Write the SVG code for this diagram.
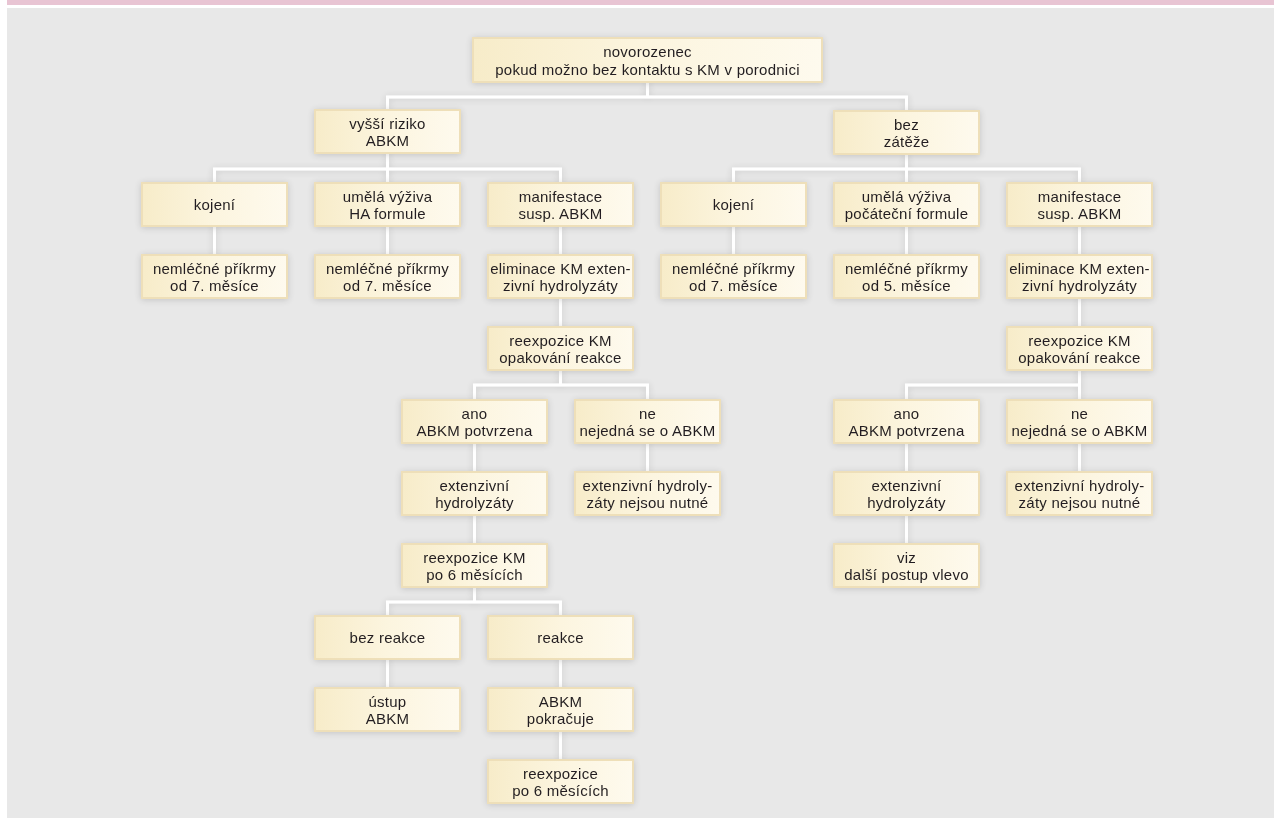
<svg xmlns="http://www.w3.org/2000/svg" width="1274" height="818" viewBox="0 0 1274 818">
<defs>
<linearGradient id="bg" x1="0" y1="0" x2="1" y2="0">
<stop offset="0" stop-color="#f7ecc9"/>
<stop offset="0.5" stop-color="#fcf5df"/>
<stop offset="1" stop-color="#fefaee"/>
</linearGradient>
<filter id="sh" x="-20%" y="-20%" width="140%" height="140%">
<feGaussianBlur in="SourceAlpha" stdDeviation="3.5"/>
<feOffset dx="0" dy="1" result="b"/>
<feComponentTransfer><feFuncA type="linear" slope="0.16"/></feComponentTransfer>
<feMerge><feMergeNode/><feMergeNode in="SourceGraphic"/></feMerge>
</filter>
<style>
.box{fill:url(#bg);stroke:#eedfb9;stroke-width:2}
.t{font-family:"Liberation Sans",Arial,sans-serif;font-size:15px;letter-spacing:0.25px;fill:#231f20;text-anchor:middle}
.c{fill:none;stroke:#ffffff;stroke-width:3}
</style>
</defs>
<rect x="0" y="0" width="1274" height="818" fill="#ffffff"/>
<rect x="7" y="0" width="1267" height="5" fill="#e8c4d3"/>
<rect x="7" y="8" width="1267" height="810" fill="#e8e8e8"/>

<g id="connectors" filter="url(#sh)">
<path class="c" d="M647.5,82V97M387.5,110V97H906.5V111"/>
<path class="c" d="M387.5,153V183M214.5,183V169H560.5V183"/>
<path class="c" d="M906.5,154V183M733.5,183V169H1079.5V183"/>
<path class="c" d="M214.5,226V255M387.5,226V255M560.5,226V255M560.5,298V327M560.5,370V385"/>
<path class="c" d="M474.5,400V385H647.5V400M474.5,443V472M647.5,443V472M474.5,515V544M474.5,587V602"/>
<path class="c" d="M387.5,616V602H560.5V616M387.5,659V688M560.5,659V688M560.5,731V760"/>
<path class="c" d="M733.5,226V255M906.5,226V255M1079.5,226V255M1079.5,298V327M1079.5,370V400"/>
<path class="c" d="M906.5,400V385H1079.5M906.5,443V472M1079.5,443V472M906.5,515V544"/>
</g>

<g id="n0" filter="url(#sh)"><rect class="box" x="473" y="38" width="349" height="44"/><text class="t" x="647.5" y="57">novorozenec</text><text class="t" x="647.5" y="75">pokud možno bez kontaktu s KM v porodnici</text></g>

<g id="n1" filter="url(#sh)"><rect class="box" x="315" y="110" width="145" height="43"/><text class="t" x="387.5" y="128.5">vyšší riziko</text><text class="t" x="387.5" y="146">ABKM</text></g>
<g id="n2" filter="url(#sh)"><rect class="box" x="834" y="111" width="145" height="43"/><text class="t" x="906.5" y="129.5">bez</text><text class="t" x="906.5" y="147">zátěže</text></g>

<g id="n3" filter="url(#sh)"><rect class="box" x="142" y="183" width="145" height="43"/><text class="t" x="214.5" y="210">kojení</text></g>
<g id="n4" filter="url(#sh)"><rect class="box" x="315" y="183" width="145" height="43"/><text class="t" x="387.5" y="201.5">umělá výživa</text><text class="t" x="387.5" y="219">HA formule</text></g>
<g id="n5" filter="url(#sh)"><rect class="box" x="488" y="183" width="145" height="43"/><text class="t" x="560.5" y="201.5">manifestace</text><text class="t" x="560.5" y="219">susp. ABKM</text></g>
<g id="n6" filter="url(#sh)"><rect class="box" x="661" y="183" width="145" height="43"/><text class="t" x="733.5" y="210">kojení</text></g>
<g id="n7" filter="url(#sh)"><rect class="box" x="834" y="183" width="145" height="43"/><text class="t" x="906.5" y="201.5">umělá výživa</text><text class="t" x="906.5" y="219">počáteční formule</text></g>
<g id="n8" filter="url(#sh)"><rect class="box" x="1007" y="183" width="145" height="43"/><text class="t" x="1079.5" y="201.5">manifestace</text><text class="t" x="1079.5" y="219">susp. ABKM</text></g>

<g id="n9" filter="url(#sh)"><rect class="box" x="142" y="255" width="145" height="43"/><text class="t" x="214.5" y="273.5">nemléčné příkrmy</text><text class="t" x="214.5" y="291">od 7. měsíce</text></g>
<g id="n10" filter="url(#sh)"><rect class="box" x="315" y="255" width="145" height="43"/><text class="t" x="387.5" y="273.5">nemléčné příkrmy</text><text class="t" x="387.5" y="291">od 7. měsíce</text></g>
<g id="n11" filter="url(#sh)"><rect class="box" x="488" y="255" width="145" height="43"/><text class="t" x="560.5" y="273.5">eliminace KM exten-</text><text class="t" x="560.5" y="291">zivní hydrolyzáty</text></g>
<g id="n12" filter="url(#sh)"><rect class="box" x="661" y="255" width="145" height="43"/><text class="t" x="733.5" y="273.5">nemléčné příkrmy</text><text class="t" x="733.5" y="291">od 7. měsíce</text></g>
<g id="n13" filter="url(#sh)"><rect class="box" x="834" y="255" width="145" height="43"/><text class="t" x="906.5" y="273.5">nemléčné příkrmy</text><text class="t" x="906.5" y="291">od 5. měsíce</text></g>
<g id="n14" filter="url(#sh)"><rect class="box" x="1007" y="255" width="145" height="43"/><text class="t" x="1079.5" y="273.5">eliminace KM exten-</text><text class="t" x="1079.5" y="291">zivní hydrolyzáty</text></g>

<g id="n15" filter="url(#sh)"><rect class="box" x="488" y="327" width="145" height="43"/><text class="t" x="560.5" y="345.5">reexpozice KM</text><text class="t" x="560.5" y="363">opakování reakce</text></g>
<g id="n16" filter="url(#sh)"><rect class="box" x="1007" y="327" width="145" height="43"/><text class="t" x="1079.5" y="345.5">reexpozice KM</text><text class="t" x="1079.5" y="363">opakování reakce</text></g>

<g id="n17" filter="url(#sh)"><rect class="box" x="402" y="400" width="145" height="43"/><text class="t" x="474.5" y="418.5">ano</text><text class="t" x="474.5" y="436">ABKM potvrzena</text></g>
<g id="n18" filter="url(#sh)"><rect class="box" x="575" y="400" width="145" height="43"/><text class="t" x="647.5" y="418.5">ne</text><text class="t" x="647.5" y="436">nejedná se o ABKM</text></g>
<g id="n19" filter="url(#sh)"><rect class="box" x="834" y="400" width="145" height="43"/><text class="t" x="906.5" y="418.5">ano</text><text class="t" x="906.5" y="436">ABKM potvrzena</text></g>
<g id="n20" filter="url(#sh)"><rect class="box" x="1007" y="400" width="145" height="43"/><text class="t" x="1079.5" y="418.5">ne</text><text class="t" x="1079.5" y="436">nejedná se o ABKM</text></g>

<g id="n21" filter="url(#sh)"><rect class="box" x="402" y="472" width="145" height="43"/><text class="t" x="474.5" y="490.5">extenzivní</text><text class="t" x="474.5" y="508">hydrolyzáty</text></g>
<g id="n22" filter="url(#sh)"><rect class="box" x="575" y="472" width="145" height="43"/><text class="t" x="647.5" y="490.5">extenzivní hydroly-</text><text class="t" x="647.5" y="508">záty nejsou nutné</text></g>
<g id="n23" filter="url(#sh)"><rect class="box" x="834" y="472" width="145" height="43"/><text class="t" x="906.5" y="490.5">extenzivní</text><text class="t" x="906.5" y="508">hydrolyzáty</text></g>
<g id="n24" filter="url(#sh)"><rect class="box" x="1007" y="472" width="145" height="43"/><text class="t" x="1079.5" y="490.5">extenzivní hydroly-</text><text class="t" x="1079.5" y="508">záty nejsou nutné</text></g>

<g id="n25" filter="url(#sh)"><rect class="box" x="402" y="544" width="145" height="43"/><text class="t" x="474.5" y="562.5">reexpozice KM</text><text class="t" x="474.5" y="580">po 6 měsících</text></g>
<g id="n26" filter="url(#sh)"><rect class="box" x="834" y="544" width="145" height="43"/><text class="t" x="906.5" y="562.5">viz</text><text class="t" x="906.5" y="580">další postup vlevo</text></g>

<g id="n27" filter="url(#sh)"><rect class="box" x="315" y="616" width="145" height="43"/><text class="t" x="387.5" y="643">bez reakce</text></g>
<g id="n28" filter="url(#sh)"><rect class="box" x="488" y="616" width="145" height="43"/><text class="t" x="560.5" y="643">reakce</text></g>

<g id="n29" filter="url(#sh)"><rect class="box" x="315" y="688" width="145" height="43"/><text class="t" x="387.5" y="706.5">ústup</text><text class="t" x="387.5" y="724">ABKM</text></g>
<g id="n30" filter="url(#sh)"><rect class="box" x="488" y="688" width="145" height="43"/><text class="t" x="560.5" y="706.5">ABKM</text><text class="t" x="560.5" y="724">pokračuje</text></g>

<g id="n31" filter="url(#sh)"><rect class="box" x="488" y="760" width="145" height="43"/><text class="t" x="560.5" y="778.5">reexpozice</text><text class="t" x="560.5" y="796">po 6 měsících</text></g>
</svg>
